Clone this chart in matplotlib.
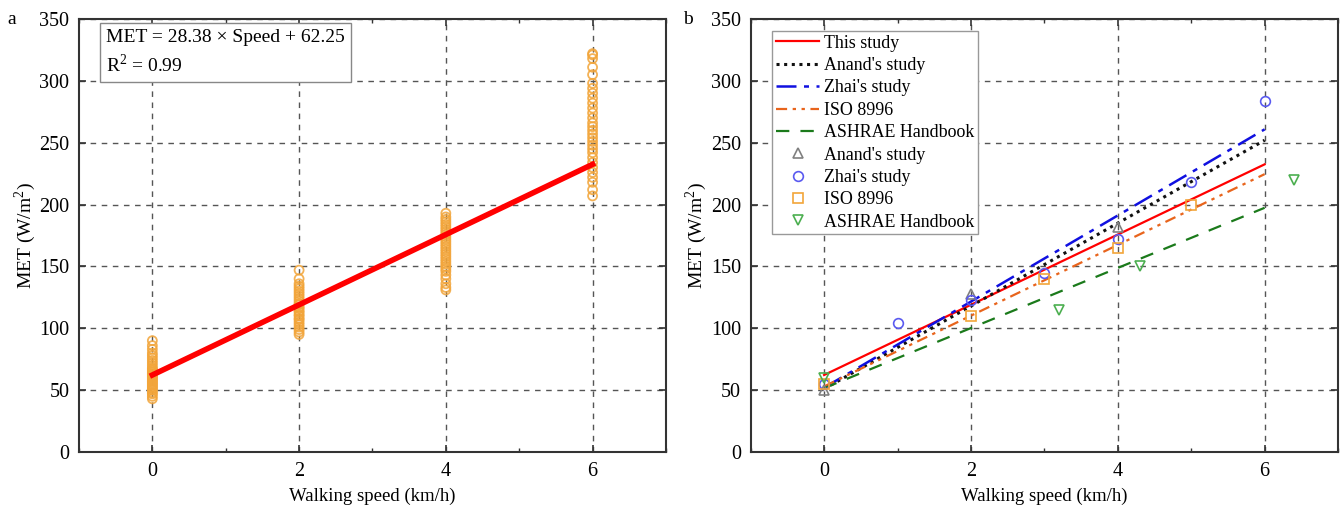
import matplotlib.pyplot as plt
from matplotlib.ticker import MultipleLocator
import numpy as np

plt.rcParams['font.family'] = ['Liberation Serif', 'DejaVu Serif']
plt.rcParams['mathtext.fontset'] = 'custom'
plt.rcParams['mathtext.rm'] = 'Liberation Serif'
plt.rcParams['font.size'] = 13

# panel a: measured MET at each walking speed
speeds = [0, 2, 4, 6]
met_0 = [43, 45, 47, 48, 50, 51, 52, 53, 54, 55, 56, 57, 58, 59, 60, 61, 62, 63, 64,
         65, 66, 67, 68, 70, 72, 74, 76, 78, 80, 83, 86, 90]
met_2 = [95, 97, 99, 101, 103, 105, 107, 108, 110, 111, 113, 114, 116, 117, 119, 120,
         122, 124, 126, 128, 130, 132, 134, 136, 140, 147]
met_4 = [131, 133, 136, 140, 143, 146, 148, 150, 152, 154, 156, 158, 160, 162, 164, 166,
         168, 170, 172, 174, 176, 178, 180, 182, 184, 186, 188, 190, 193]
met_6 = [207, 212, 218, 222, 226, 230, 234, 238, 242, 245, 248, 251, 254, 257, 260, 263,
         266, 270, 274, 278, 282, 286, 290, 294, 298, 305, 311, 318, 321, 322]
slope, intercept = 28.38, 62.25

# panel b: fitted lines (intercept, slope) and reference points
fits = {
    'This study': (62.25, 28.38),
    "Anand's study": (51.0, 33.5),
    "Zhai's study": (52.0, 34.8),
    'ISO 8996': (53.0, 28.6),
    'ASHRAE Handbook': (51.6, 24.3),
}
anand_x = [0, 2, 4]
anand_y = [50, 128, 182]
zhai_x = [0, 1, 2, 3, 4, 5, 6]
zhai_y = [55, 104, 123, 145, 172, 218, 284]
iso_x = [0, 2, 3, 4, 5]
iso_y = [55, 110, 140, 165, 200]
ashrae_x = [0, 3.2, 4.3, 6.4]
ashrae_y = [60, 115, 150, 220]

fig = plt.figure(figsize=(13.41, 5.15), dpi=100)
ax1 = fig.add_axes([0.0589, 0.1223, 0.4377, 0.8408])
ax2 = fig.add_axes([0.5598, 0.1223, 0.4380, 0.8408])


def style(ax):
    ax.set_xlim(-1, 7)
    ax.set_ylim(0, 350)
    ax.xaxis.set_major_locator(MultipleLocator(2))
    ax.xaxis.set_minor_locator(MultipleLocator(1))
    ax.yaxis.set_major_locator(MultipleLocator(50))
    ax.grid(True, which='major', ls=(0, (4, 4)), color='#555555', lw=1)
    ax.set_axisbelow(True)
    ax.tick_params(which='both', direction='in', top=True, right=True, color='#333333')
    ax.tick_params(which='major', length=5, width=1.2)
    ax.tick_params(which='minor', length=3, width=1)
    ax.tick_params(axis='both', labelsize=14.5, pad=7)
    for s in ax.spines.values():
        s.set_color('#333333')
        s.set_linewidth(1.5)
    ax.set_xlabel('Walking speed (km/h)', fontsize=13.5, labelpad=5)
    ax.set_ylabel('MET (W/m$^2$)', fontsize=14, labelpad=1)


style(ax1)
style(ax2)

# panel a
for x, vals in zip(speeds, [met_0, met_2, met_4, met_6]):
    ax1.scatter([x] * len(vals), vals, s=42, facecolors='none',
                edgecolors='#F2A53A', linewidths=1.3, alpha=0.85, zorder=3)
xx = np.array([0, 6])
ax1.plot(xx, slope * xx + intercept, color='#FF0000', lw=4, zorder=4)
ax1.text(0.046, 0.978, 'MET = 28.38 × Speed + 62.25\nR$^2$ = 0.99',
         transform=ax1.transAxes, va='top', ha='left', fontsize=14, linespacing=1.45,
         bbox=dict(boxstyle='square,pad=0.3', fc='white', ec='#888888', lw=1), zorder=5)

# panel b
line_styles = {
    'This study': dict(color='#FF0000', ls='-', lw=1.6),
    "Anand's study": dict(color='#111111', ls=(0, (1, 1.5)), lw=2.2),
    "Zhai's study": dict(color='#1010E0', ls=(0, (8, 3, 2, 3)), lw=1.8),
    'ISO 8996': dict(color='#E8641C', ls=(0, (5, 2.5, 1.5, 2.5, 1.5, 2.5)), lw=1.6),
    'ASHRAE Handbook': dict(color='#1B7A1B', ls=(0, (6, 5)), lw=1.6),
}
for name, (b0, b1) in fits.items():
    ax2.plot(xx, b1 * xx + b0, label=name, zorder=3, **line_styles[name])

ax2.plot(anand_x, anand_y, ls='none', marker='^', ms=7, mfc='none', mec='#808080',
         mew=1.2, label="Anand's study", zorder=4)
ax2.plot(zhai_x, zhai_y, ls='none', marker='o', ms=7, mfc='none', mec='#5A5AF0',
         mew=1.2, label="Zhai's study", zorder=4)
ax2.plot(iso_x, iso_y, ls='none', marker='s', ms=6.5, mfc='none', mec='#F2A53A',
         mew=1.2, label='ISO 8996', zorder=4)
ax2.plot(ashrae_x, ashrae_y, ls='none', marker='v', ms=7, mfc='none', mec='#4CAF50',
         mew=1.2, label='ASHRAE Handbook', zorder=4)

leg = ax2.legend(loc='upper left', bbox_to_anchor=(0.037, 0.972), fontsize=12.9,
                 frameon=True, fancybox=False, edgecolor='#999999', framealpha=1,
                 handlelength=2.4, handletextpad=0.3, labelspacing=0.3,
                 borderpad=0.2, borderaxespad=0)
leg.get_frame().set_linewidth(1)

fig.text(12 / 1341, 1 - 20 / 515, 'a', fontsize=14, va='center', ha='center')
fig.text(688 / 1341, 1 - 20 / 515, 'b', fontsize=14, va='center', ha='center')

fig.savefig('out.png', dpi=100)
